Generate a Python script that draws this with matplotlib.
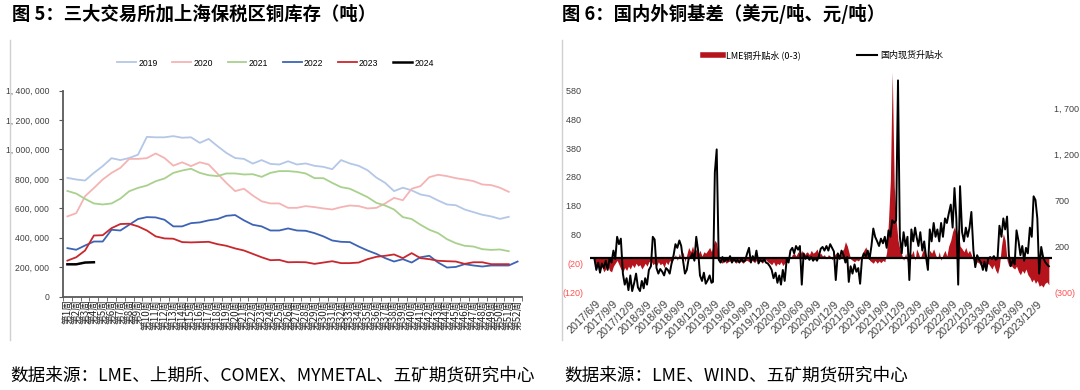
import numpy as np
import pandas as pd
import matplotlib
matplotlib.use('Agg')
import matplotlib.pyplot as plt
from matplotlib.lines import Line2D
from matplotlib.ticker import FuncFormatter

plt.rcParams['font.family'] = ['Noto Sans CJK SC', 'DejaVu Sans']
plt.rcParams['axes.unicode_minus'] = False

# ---- Fig 5: copper stocks, three exchanges + Shanghai bonded (thousand tonnes, by week) ----
weeks = [f'第{i}周' for i in range(1, 53)]
stock_2019 = [807, 796, 789, 841, 887, 941, 928, 942, 965, 1086, 1083, 1083, 1091, 1080, 1083, 1045, 1072,
              1023, 977, 942, 936, 904, 928, 902, 898, 920, 898, 905, 889, 882, 866, 928, 905, 889, 859,
              809, 773, 717, 740, 722, 694, 683, 653, 626, 621, 592, 574, 556, 545, 528, 542]
stock_2020 = [545, 567, 682, 738, 796, 841, 875, 936, 936, 941, 973, 942, 890, 913, 887, 913, 898, 836,
              773, 717, 733, 687, 648, 633, 633, 603, 603, 615, 608, 599, 592, 608, 619, 615, 599, 603,
              633, 671, 655, 733, 751, 812, 828, 819, 805, 796, 785, 762, 758, 740, 712]
stock_2021 = [718, 700, 664, 633, 626, 633, 666, 716, 739, 755, 784, 803, 841, 857, 869, 841, 825, 819,
              837, 837, 830, 832, 814, 841, 853, 853, 848, 837, 805, 805, 773, 744, 733, 705, 676, 637,
              619, 592, 540, 527, 488, 454, 431, 390, 363, 345, 340, 322, 317, 320, 308]
stock_2022 = [329, 318, 347, 374, 374, 454, 449, 488, 527, 540, 538, 522, 477, 477, 499, 504, 518, 527,
              549, 554, 518, 488, 477, 449, 449, 463, 449, 447, 431, 409, 381, 372, 370, 340, 313, 290,
              261, 238, 254, 231, 267, 277, 231, 197, 201, 220, 211, 204, 211, 211, 211, 238]
stock_2023 = [244, 267, 313, 415, 417, 465, 493, 495, 477, 449, 409, 395, 393, 370, 368, 370, 372, 356,
              345, 327, 313, 290, 267, 247, 249, 233, 234, 233, 222, 231, 240, 227, 227, 231, 254, 270,
              277, 286, 261, 295, 261, 254, 243, 240, 238, 222, 233, 233, 220, 220, 220]
stock_2024 = [219, 219, 231, 233]

years = ['2019', '2020', '2021', '2022', '2023', '2024']
year_colors = ['#b4c7e7', '#f4b4b4', '#a9d18e', '#3d64b4', '#c8282d', '#000000']

# ---- Fig 6: copper basis, 3 readings per month (1st, 11th, 21st) from Jun 2017 ----
# LME cash-3M spread, USD/t (left axis)
lme_spread = [
    -20, -35, -30, -45, -30, -50, -40, -25, -45, -50, -30, -20, -10, -25, -40, -50, -35, -45, -30, -40, -25,
    -35, -20, -30, -25, -40, -30, -20, -30, -15, -10, -25, -20, -30, -15, -25, -20, -35, -15,
    -25, -10, -20, -5, 10, -10, 15, -5, 20, -15, 10, 35, 20, 40, 15, 30, 10, 25,
    5, 20, 15, 25, 35, 20, 40, 60, 50, -10, -15, -20, -10, -20, -15, -12, -18, -10,
    -20, -15, -10, -15, -20, -12, -10, -15, -8, -12, -18, -10, -15, -10, -20, -12, -8, -15,
    -20, -25, -15, -30, -20, -25, -15, -28, -20, -10, 5, -5, 10, 15, 5, 20, 10, 25,
    5, 15, 20, 10, 25, 15, 20, 30, 10, 15, 5, 10, -5, 10, 5, -8, 5, 15,
    10, -5, 20, 30, 55, 40, 20, -5, -10, -15, -8, -12, -5, 10, 25, 37, 15, -10,
    -15, -20, -10, -20, -12, -18, -10, -15, 20, 130, 270, 646, 246, 130, 60, 30, 10, -10,
    15, -15, 20, 10, 25, -10, 30, 15, -5, 20, 30, 10, -10, 25, 15, 30, 10, -5,
    20, -10, 10, 25, 5, 40, 60, 90, 107, 80, 100, 40, 30, 20, 35, 15, 25, 10,
    -10, -25, -15, -20, -30, -15, -25, -35, -20, -30, -40, -25, -45, -56, -30, 40, 83, 60,
    -10, -30, -25, -35, -40, -30, -50, -60, -45, -55, -40, -60, -70, -85, -75, -90, -80, -100,
    -95, -103, -90, -85, -95,
]
# domestic spot premium, CNY/t (right axis)
domestic_premium = [
    60, -60, 20, -90, 10, -40, 40, -60, 60, 20, 150, 60, 300, 220, 280, -100, -220, -150, -280, -120, -290,
    -200, -100, -250, -290, -180, -260, -150, -220, -60, -20, 300, 270, -40, -100, -50, -80, -120, -40,
    -60, -100, 10, 100, 220, 180, 260, 200, 40, -100, -60, 60, 80, 120, 40, 300, 150, -120,
    -180, -90, -210, -170, -120, -200, -190, 1000, 1250, 50, 20, 80, 30, 60, 40, 90, 20, 70,
    30, 50, 20, 60, 30, 40, 120, 180, 20, 90, 40, 150, 10, 50, 30, 60, 20, 10,
    -20, -60, -150, -90, -200, -120, -220, -60, -180, 60, 20, 150, 180, 120, 200, 160, 200, -220,
    120, 60, 90, 50, 80, 40, 70, 40, 90, 170, 190, 150, 200, 150, 220, 180, 140, -170,
    120, 60, 150, 100, 20, 80, -190, -20, -100, 0, -80, -40, -210, 60, 120, 90, 150, 60,
    200, 390, 300, 250, 200, 280, 230, 300, 180, 370, 300, 480, 450, 480, 2000, 300, 120, 350,
    200, 300, -170, 380, 250, 400, 300, 200, 350, 150, 250, 80, -60, 380, 250, 450, 300, 380,
    250, 450, 300, 500, 450, 550, 650, 400, 830, 500, -220, 850, 350, 250, 400, 300, 400, 570,
    150, -30, 100, 50, 20, -60, 30, -70, 60, 80, 60, 90, 50, 70, 420, 300, 500, 380,
    520, 100, -20, 50, 0, 370, 250, 100, 200, 40, 180, 120, 400, 300, 740, 700, 500, -100,
    190, 80, 30, 0, -20,
]
months = pd.period_range('2017-06', '2024-02', freq='M')
dates = [m.to_timestamp() + pd.Timedelta(days=d) for m in months for d in (0, 10, 20)][:len(lme_spread)]

W, H = 1080, 390
fig = plt.figure(figsize=(W / 100, H / 100), dpi=100)

num_font = 'Liberation Sans'
grey = '#404040'

# panel frames and titles
for x0 in (10, 562):
    fig.add_artist(Line2D([x0 / W, x0 / W], [1 - 40 / H, 1 - 340 / H], color='#d0d0d0', lw=1))
fig.text(12 / W, 1 - 14 / H, '图 5：三大交易所加上海保税区铜库存（吨）', fontsize=13.2, weight='bold', va='center')
fig.text(562 / W, 1 - 14 / H, '图 6：国内外铜基差（美元/吨、元/吨）', fontsize=13.2, weight='bold', va='center')
fig.text(10 / W, 1 - 375 / H, '数据来源：LME、上期所、COMEX、MYMETAL、五矿期货研究中心', fontsize=12.7, va='center')
fig.text(564 / W, 1 - 375 / H, '数据来源：LME、WIND、五矿期货研究中心', fontsize=12.7, va='center')

# ---- left chart ----
ax = fig.add_axes([63 / W, 1 - 296.5 / H, 459 / W, 205.8 / H])
series = [stock_2019, stock_2020, stock_2021, stock_2022, stock_2023, stock_2024]
for name, vals, col in zip(years, series, year_colors):
    x = np.arange(1, len(vals) + 1)
    ax.plot(x, np.array(vals) * 1000, color=col, lw=1.3 if name != '2024' else 1.8, label=name)
ax.set_xlim(0.5, 52.5)
ax.set_ylim(0, 1400000)
ax.set_yticks(np.arange(0, 1400001, 200000))
ax.yaxis.set_major_formatter(FuncFormatter(lambda v, p: f'{int(v):,}'.replace(',', ', ')))
ax.set_xticks(np.arange(1, 53))
ax.set_xticklabels(weeks, rotation=90, fontsize=7, color='#222222')
ax.set_xticks(np.arange(0.5, 53, 1), minor=True)
ax.tick_params(axis='x', which='major', length=0, pad=2)
ax.tick_params(axis='x', which='minor', length=3, color='#595959')
ax.tick_params(axis='y', length=3, color='#595959', labelsize=6.2, labelcolor=grey, pad=7)
for lab in ax.get_yticklabels():
    lab.set_family(num_font)
for s in ('top', 'right'):
    ax.spines[s].set_visible(False)
for s in ('left', 'bottom'):
    ax.spines[s].set_color('#595959')
    ax.spines[s].set_linewidth(1.3)

h, l = ax.get_legend_handles_labels()
fig.legend(h, l, loc='center left', bbox_to_anchor=(113 / W, 1 - 63 / H), ncol=6, frameon=False,
           handlelength=2.2, handletextpad=0.25, columnspacing=1.7, borderpad=0,
           prop={'family': num_font, 'size': 6.2})

# ---- right chart ----
ax2 = fig.add_axes([590 / W, 1 - 292 / H, 462 / W, 230 / H])
ax2.fill_between(dates, 0, lme_spread, color='#b5141c', lw=0)
ax2.axhline(0, color='black', lw=1.6, zorder=3)
ax2.set_ylim(-120, 680)
ax2.set_xlim(pd.Timestamp('2017-05-08'), pd.Timestamp('2024-02-28'))
ax3 = ax2.twinx()
ax3.plot(dates, domestic_premium, color='black', lw=1.4)
ax3.set_ylim(-300, 2200)

left_ticks = np.arange(-120, 581, 100)
right_ticks = np.arange(-300, 1701, 500)


def acct(v, pad=' '):
    s = f'{abs(int(v)):,}'.replace(',', ', ')
    return f'({s})' if v < 0 else s + pad


ax2.set_yticks(left_ticks)
ax2.set_yticklabels([acct(v) for v in left_ticks])
ax3.set_yticks(right_ticks)
ax3.set_yticklabels([acct(v, '') for v in right_ticks])
for a in (ax2, ax3):
    a.tick_params(length=0, labelsize=6.5, labelcolor=grey)
    for s in a.spines.values():
        s.set_visible(False)
    for lab in a.get_yticklabels():
        lab.set_family(num_font)
        if lab.get_text().startswith('('):
            lab.set_color('#ff5050')
ax2.tick_params(axis='y', pad=5)
ax3.tick_params(axis='y', pad=1.5)

xt = pd.date_range('2017-06-09', '2023-12-09', freq=pd.DateOffset(months=3))
ax2.set_xticks(xt)
ax2.set_xticklabels([f'{d.year}/{d.month}/{d.day}' for d in xt], rotation=45, ha='right',
                    rotation_mode='anchor', fontsize=7.8, family=num_font, color=grey)
ax2.tick_params(axis='x', pad=5)

leg_h = [Line2D([], [], color='#b5141c', lw=4), Line2D([], [], color='black', lw=1.5)]
fig.legend(leg_h, ['LME铜升贴水 (0-3)', '国内现货升贴水'], loc='center', bbox_to_anchor=(823 / W, 1 - 55 / H),
           ncol=2, frameon=False, fontsize=6.5, handlelength=2.2, handletextpad=0.3, columnspacing=6.3,
           borderpad=0)

fig.savefig('out.png', dpi=100)
